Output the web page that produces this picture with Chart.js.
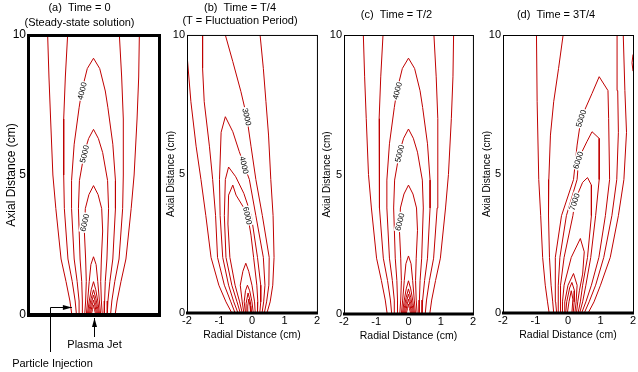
<!DOCTYPE html>
<html>
<head>
<meta charset="utf-8">
<script src="https://cdn.jsdelivr.net/npm/chart.js@4.4.1/dist/chart.umd.min.js"></script>
<style>
body { margin: 0; background: #fff; width: 638px; height: 372px; position: relative; overflow: hidden; }
canvas { position: absolute; top: 0; }
</style>
</head>
<body>
<canvas id="ca" width="162" height="372" style="left:0"></canvas>
<canvas id="cb" width="158" height="372" style="left:163px"></canvas>
<canvas id="cc" width="157" height="372" style="left:320px"></canvas>
<canvas id="cd" width="159" height="372" style="left:479px"></canvas>
<script>
// axes
var xTicks = [-2, -1, 0, 1, 2]
var yTicks = [0, 5, 10]

// contour lines, [radial cm, axial cm]
// (a) steady state -- (c) T/2 looks the same so it reuses these
var contA1 = [[-1.40,10],[-1.36,8.5],[-1.31,7],[-1.24,5],[-1.15,3.8],[-0.99,2],[-0.84,1.2],[-0.72,0.5],[-0.66,0],[0.66,0],[0.72,0.5],[0.84,1.2],[0.99,2],[1.15,3.8],[1.24,5],[1.33,7],[1.38,8.5],[1.40,10]]
var contA2 = [[-0.79,10],[-0.86,8.5],[-0.91,7],[-0.91,5],[-0.89,3.8],[-0.78,2],[-0.65,1.2],[-0.56,0.5],[-0.52,0],[0.52,0],[0.56,0.5],[0.65,1.2],[0.78,2],[0.89,3.8],[0.91,5],[0.91,7],[0.86,8.5],[0.79,10]]
var contA3 = [[-0.42,0],[-0.44,0.5],[-0.50,1.2],[-0.59,2],[-0.67,3.8],[-0.67,4.8],[-0.59,6.1],[-0.44,7.4],[-0.36,8],[-0.19,8.8],[0,9.17],[0.19,8.8],[0.36,8],[0.44,7.4],[0.59,6.1],[0.67,4.8],[0.67,3.8],[0.59,2],[0.50,1.2],[0.44,0.5],[0.42,0]]
var contA4 = [[-0.33,0],[-0.34,0.5],[-0.36,1.2],[-0.41,2],[-0.46,3.8],[-0.43,4.8],[-0.28,5.8],[-0.15,6.3],[0,6.63],[0.15,6.3],[0.28,5.8],[0.43,4.8],[0.46,3.8],[0.41,2],[0.36,1.2],[0.34,0.5],[0.33,0]]
var contA5 = [[-0.27,0],[-0.24,0.5],[-0.22,1.2],[-0.24,2],[-0.28,3],[-0.25,3.8],[-0.14,4.3],[0,4.62],[0.14,4.3],[0.25,3.8],[0.28,3],[0.24,2],[0.22,1.2],[0.24,0.5],[0.27,0]]
var contA6 = [[-0.22,0],[-0.18,0.5],[-0.13,1.2],[-0.08,1.8],[0,2.08],[0.08,1.8],[0.13,1.2],[0.18,0.5],[0.22,0]]
var contA7 = [[-0.19,0],[-0.13,0.5],[-0.07,0.9],[0,1.19],[0.07,0.9],[0.13,0.5],[0.19,0]]
var contA8 = [[-0.16,0],[-0.12,0.3],[-0.07,0.6],[0,0.9],[0.07,0.6],[0.12,0.3],[0.16,0]]
var contA9 = [[-0.13,0],[-0.1,0.2],[-0.06,0.45],[0,0.71],[0.06,0.45],[0.1,0.2],[0.13,0]]
var contA10 = [[-0.1,0],[-0.05,0.3],[0,0.53],[0.05,0.3],[0.1,0]]
var contA11 = [[-0.07,0],[-0.03,0.2],[0,0.36],[0.03,0.2],[0.07,0]]
var labelsA = [['4000', -0.35, 8.0], ['5000', -0.28, 5.75], ['6000', -0.27, 3.3]]

// (b) T/4
var contB1 = [[-2.0,9.3],[-1.88,7.6],[-1.72,6.0],[-1.57,4.8],[-1.42,3.5],[-1.26,2.0],[-1.02,1.0],[-0.8,0.4],[-0.62,0],[0.46,0],[0.56,0.4],[0.64,1.0],[0.68,2.0],[0.65,3.5],[0.58,4.8],[0.51,6.4],[0.43,7.6],[0.35,8.8],[0.25,10]]
var contB2 = [[-1.52,10],[-1.52,8.8],[-1.47,7.6],[-1.31,6.0],[-1.21,4.8],[-1.12,3.5],[-1.06,2.0],[-0.85,1.0],[-0.65,0.4],[-0.52,0],[0.38,0],[0.45,0.4],[0.52,1.0],[0.53,2.0],[0.32,3.5],[0.12,4.8],[-0.03,6.0],[-0.16,7.06],[-0.34,7.96],[-0.59,9.04],[-0.82,10]]
var contB3 = [[-0.43,0],[-0.56,0.4],[-0.72,1.0],[-0.90,2.0],[-0.98,3.5],[-1.0,4.8],[-0.95,6.5],[-0.82,7.06],[-0.59,6.52],[-0.39,5.8],[-0.24,5.32],[-0.08,4.8],[0.12,3.5],[0.35,2.0],[0.40,1.0],[0.36,0.4],[0.31,0]]
var contB4 = [[-0.36,0],[-0.46,0.4],[-0.62,1.0],[-0.80,2.0],[-0.85,3.5],[-0.82,4.8],[-0.72,5.25],[-0.5,4.9],[-0.25,4.3],[-0.02,3.5],[0.17,2.0],[0.27,1.0],[0.27,0.4],[0.24,0]]
var contB5 = [[-0.3,0],[-0.38,0.4],[-0.52,1.0],[-0.68,2.0],[-0.74,3.2],[-0.72,4.24],[-0.59,4.6],[-0.49,4.24],[-0.24,3.76],[-0.13,3.5],[-0.03,2.8],[0.05,2.0],[0.15,1.0],[0.18,0.4],[0.17,0]]
var contB6 = [[-0.25,0],[-0.30,0.4],[-0.36,1.0],[-0.28,1.5],[-0.19,1.79],[-0.1,1.5],[0.0,1.0],[0.08,0.4],[0.1,0]]
var contB7 = [[-0.2,0],[-0.24,0.4],[-0.2,0.8],[-0.14,1.0],[-0.07,0.8],[0.0,0.4],[0.04,0]]
var contB8 = [[-0.16,0],[-0.18,0.35],[-0.12,0.72],[-0.05,0.4],[-0.01,0]]
var contB9 = [[-0.13,0],[-0.13,0.25],[-0.1,0.5],[-0.06,0.25],[-0.04,0]]
var labelsB = [['3000', -0.16, 7.06], ['4000', -0.24, 5.32], ['6000', -0.13, 3.5]]

// (d) 3T/4
var contD0 = [[2.0,9.3],[1.97,9.0],[2.0,8.7]]
var contD1 = [[-0.97,10],[-0.95,7.6],[-0.9,4.8],[-0.84,3.5],[-0.78,2.0],[-0.7,1.0],[-0.63,0.4],[-0.58,0],[0.62,0],[0.8,0.4],[1.0,1.0],[1.3,2.0],[1.55,3.5],[1.72,4.8],[1.8,6.5],[1.75,8.0],[1.70,10]]
var contD2 = [[-0.15,10],[-0.29,8.8],[-0.44,7.6],[-0.54,6.4],[-0.59,4.8],[-0.6,3.5],[-0.57,2.0],[-0.52,1.0],[-0.47,0.4],[-0.44,0],[0.5,0],[0.65,0.4],[0.85,1.0],[1.1,2.0],[1.35,3.5],[1.5,4.8],[1.55,6.5],[1.53,8.0],[1.51,10]]
var contD3 = [[-0.35,0],[-0.38,0.4],[-0.4,1.0],[-0.38,2.0],[-0.2,3.5],[0.17,4.8],[0.28,6.04],[0.40,7.0],[0.74,7.9],[0.96,8.5],[1.23,8.0],[1.25,7.0],[1.28,4.8],[1.15,3.5],[0.95,2.0],[0.72,1.0],[0.55,0.4],[0.42,0]]
var contD4 = [[-0.28,0],[-0.3,0.4],[-0.3,1.0],[-0.25,2.0],[-0.05,3.5],[0.28,4.8],[0.33,5.56],[0.58,6.16],[0.74,6.52],[0.96,6.28],[0.96,4.8],[0.85,3.5],[0.7,2.0],[0.55,1.0],[0.45,0.4],[0.36,0]]
var contD5 = [[-0.22,0],[-0.24,0.4],[-0.22,1.0],[-0.12,2.0],[0.15,3.5],[0.22,4.06],[0.45,4.7],[0.6,4.87],[0.72,4.6],[0.72,3.5],[0.6,2.0],[0.45,1.0],[0.38,0.4],[0.31,0]]
var contD6 = [[-0.17,0],[-0.17,0.4],[-0.12,1.0],[0.1,2.0],[0.38,2.68],[0.5,2.2],[0.45,1.4],[0.35,0.8],[0.3,0.4],[0.26,0]]
var contD7 = [[-0.12,0],[-0.1,0.4],[0.0,1.0],[0.17,1.42],[0.28,1.0],[0.25,0.4],[0.21,0]]
var contD8 = [[-0.07,0],[-0.04,0.4],[0.05,0.9],[0.12,1.1],[0.2,0.8],[0.19,0.4],[0.16,0]]
var contD9 = [[-0.02,0],[0.03,0.4],[0.1,0.8],[0.15,0.5],[0.12,0]]
var labelsD = [['5000', 0.40, 7.0], ['6000', 0.31, 5.5], ['7000', 0.2, 4.0]]

var contoursA = [contA1, contA2, contA3, contA4, contA5, contA6, contA7, contA8, contA9, contA10, contA11]
var contoursB = [contB1, contB2, contB3, contB4, contB5, contB6, contB7, contB8, contB9]
var contoursD = [contD0, contD1, contD2, contD3, contD4, contD5, contD6, contD7, contD8, contD9]

var family = "'Liberation Sans', Arial, sans-serif"
Chart.defaults.font.family = family
Chart.defaults.color = '#000'
var red = '#c00000'

// box round the plot, thick base line
const frame = {
    id: 'frame',
    afterDatasetsDraw(chart, args, opts) {
        const a = chart.chartArea
        const ctx = chart.ctx
        ctx.save()
        ctx.strokeStyle = '#000'
        ctx.lineWidth = opts.side
        const o = opts.side % 2 ? 0.5 : 0
        ctx.strokeRect(a.left + o, a.top + o, a.right - a.left, a.bottom - a.top)
        ctx.lineWidth = opts.bottom
        ctx.beginPath()
        ctx.moveTo(a.left - 1, a.bottom)
        ctx.lineTo(a.right + 1, a.bottom)
        ctx.stroke()
        ctx.restore()
    }
}

// the 4000 / 5000 ... tags sitting on the lines
const contourLabels = {
    id: 'contourLabels',
    afterDatasetsDraw(chart, args, opts) {
        const ctx = chart.ctx
        const x = chart.scales.x, y = chart.scales.y
        ctx.save()
        ctx.font = '8px ' + family
        opts.items.forEach(function (it) {
            ctx.save()
            ctx.translate(x.getPixelForValue(it[1]), y.getPixelForValue(it[2]))
            ctx.rotate(opts.angle * Math.PI / 180)
            const w = ctx.measureText(it[0]).width
            ctx.fillStyle = '#fff'
            ctx.fillRect(-w / 2 - 1, -4, w + 2, 8)
            ctx.fillStyle = '#000'
            ctx.textAlign = 'center'
            ctx.textBaseline = 'middle'
            ctx.fillText(it[0], 0, 0.5)
            ctx.restore()
        })
        ctx.restore()
    }
}

// arrows under panel (a)
const notes = {
    id: 'notes',
    afterDraw(chart) {
        const ctx = chart.ctx
        const x = chart.scales.x, y = chart.scales.y
        const cx = Math.round(x.getPixelForValue(0)) + 0.5
        const base = y.getPixelForValue(0)
        ctx.save()
        ctx.strokeStyle = '#000'
        ctx.fillStyle = '#000'
        ctx.lineWidth = 1
        ctx.beginPath()
        ctx.moveTo(cx, base + 22)
        ctx.lineTo(cx, base + 3)
        ctx.stroke()
        ctx.beginPath()
        ctx.moveTo(cx, base + 3)
        ctx.lineTo(cx - 2.5, base + 12)
        ctx.lineTo(cx + 2.5, base + 12)
        ctx.closePath()
        ctx.fill()

        const px = Math.round(x.getPixelForValue(-1.33)) + 0.5
        const tip = x.getPixelForValue(-0.66)
        const py = Math.round(y.getPixelForValue(0.29)) + 0.5
        ctx.beginPath()
        ctx.moveTo(px, base + 37)
        ctx.lineTo(px, py)
        ctx.lineTo(tip, py)
        ctx.stroke()
        ctx.beginPath()
        ctx.moveTo(tip, py)
        ctx.lineTo(tip - 9, py - 2.5)
        ctx.lineTo(tip - 9, py + 2.5)
        ctx.closePath()
        ctx.fill()

        ctx.font = '11px ' + family
        ctx.textAlign = 'center'
        ctx.textBaseline = 'middle'
        ctx.fillText('Plasma Jet', cx, base + 30)
        ctx.fillText('Particle Injection', px + 2, base + 49)
        ctx.restore()
    }
}

function makePanel(id, contours, labels, o) {
    const datasets = contours.map(function (c) {
        return {
            data: c.map(function (p) { return { x: p[0], y: p[1] } }),
            showLine: true,
            borderColor: red,
            borderWidth: 1,
            pointRadius: 0,
            tension: 0,
            fill: false
        }
    })
    const plugs = [frame, contourLabels]
    if (o.notes) plugs.push(notes)
    return new Chart(document.getElementById(id), {
        type: 'scatter',
        data: { datasets: datasets },
        options: {
            responsive: false,
            animation: false,
            events: [],
            layout: { padding: { left: 0, right: o.padRight, top: 0, bottom: o.padBottom } },
            plugins: {
                legend: { display: false },
                tooltip: { enabled: false },
                title: {
                    display: true,
                    text: o.title,
                    color: '#000',
                    font: { size: 11, weight: 'normal', lineHeight: o.titleLine },
                    padding: o.titlePad
                },
                frame: { side: o.side, bottom: o.bottom },
                contourLabels: { items: labels, angle: o.angle }
            },
            scales: {
                x: {
                    type: 'linear',
                    min: -2, max: 2,
                    display: o.showX,
                    afterBuildTicks: function (s) { s.ticks = xTicks.map(function (v) { return { value: v } }) },
                    afterFit: function (s) { s.height = o.showX ? 30 : 0 },
                    grid: { display: false, drawTicks: false },
                    border: { display: false },
                    ticks: { font: { size: 11 }, padding: 1, maxRotation: 0, autoSkip: false },
                    title: { display: true, text: 'Radial Distance (cm)', font: { size: 10.5 }, padding: { top: 0, bottom: 2 } }
                },
                y: {
                    type: 'linear',
                    min: 0, max: 10,
                    afterBuildTicks: function (s) { s.ticks = yTicks.map(function (v) { return { value: v } }) },
                    afterFit: function (s) { s.width = o.yWidth },
                    grid: { display: false, drawTicks: false },
                    border: { display: false },
                    ticks: { font: { size: o.yTickSize }, padding: 2 },
                    title: { display: true, text: 'Axial Distance (cm)', font: { size: o.yTitleSize }, padding: { top: o.yTitlePad, bottom: 0 } }
                }
            }
        },
        plugins: plugs
    })
}

makePanel('ca', contoursA, labelsA, {
    title: ['(a)  Time = 0', '(Steady-state solution)'], titleLine: 1.35, titlePad: { top: 1, bottom: 4.3 },
    padRight: 3, padBottom: 57, showX: false, yWidth: 28, yTickSize: 12, yTitleSize: 12, yTitlePad: 4.5,
    side: 3, bottom: 4, angle: -76, notes: true
})
makePanel('cb', contoursB, labelsB, {
    title: ['(b)  Time = T/4', '(T = Fluctuation Period)'], titleLine: 1.18, titlePad: { top: 1.5, bottom: 7.5 },
    padRight: 4, padBottom: 29, showX: true, yWidth: 24, yTickSize: 11, yTitleSize: 10, yTitlePad: 2,
    side: 1, bottom: 3, angle: 77
})
makePanel('cc', contoursA, labelsA, {
    title: '(c)  Time = T/2', titleLine: 1.2, titlePad: { top: 8.4, bottom: 13.4 },
    padRight: 4, padBottom: 28, showX: true, yWidth: 24, yTickSize: 11, yTitleSize: 10, yTitlePad: 1.5,
    side: 1, bottom: 3, angle: -76
})
makePanel('cd', contoursD, labelsD, {
    title: '(d)  Time = 3T/4', titleLine: 1.2, titlePad: { top: 8.4, bottom: 13.4 },
    padRight: 5, padBottom: 29, showX: true, yWidth: 24, yTickSize: 11, yTitleSize: 10, yTitlePad: 2.5,
    side: 1, bottom: 3, angle: -72
})
</script>
</body>
</html>
